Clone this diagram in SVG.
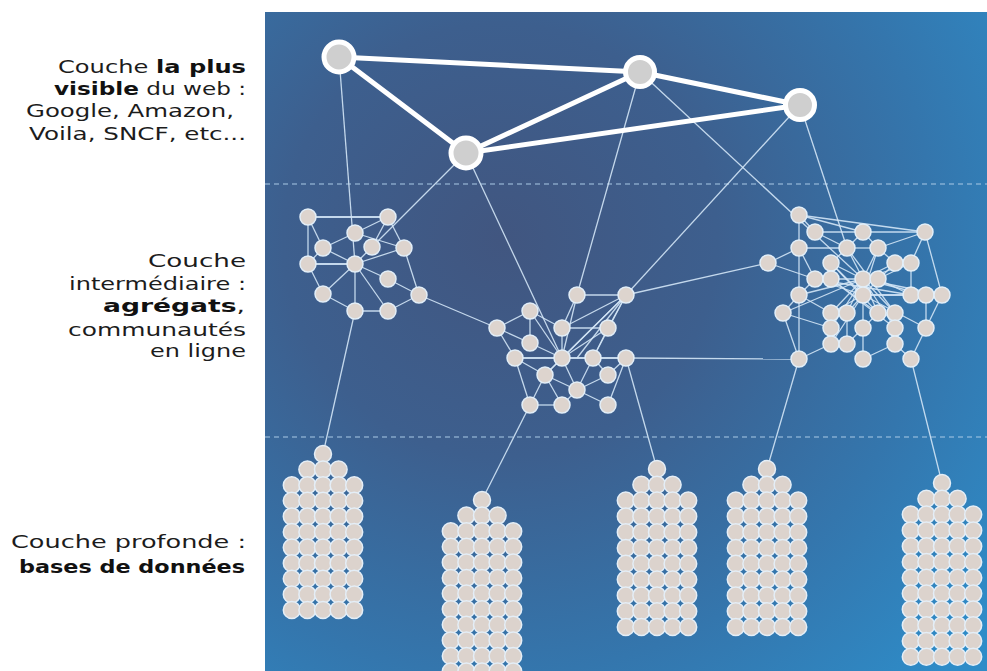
<svg xmlns="http://www.w3.org/2000/svg" xmlns:xlink="http://www.w3.org/1999/xlink" width="987" height="671" viewBox="0 0 987 671">
<defs>
<radialGradient id="bg" gradientUnits="userSpaceOnUse" cx="500" cy="240" r="620">
<stop offset="0" stop-color="#415680"/>
<stop offset="0.35" stop-color="#3d5f8e"/>
<stop offset="0.7" stop-color="#3476ad"/>
<stop offset="1" stop-color="#2e8cc8"/>
</radialGradient>
<style>
.lbl{font-family:"DejaVu Sans","Liberation Sans",sans-serif;font-size:18px;fill:#1c1c1c;text-anchor:end}
.b{font-weight:bold;fill:#111}
.dash{stroke:#a9c9e6;stroke-width:1.2;stroke-dasharray:5 4;fill:none}
.thick{stroke:#ffffff;stroke-width:5;fill:none;stroke-linecap:round}
.thin line{stroke:#d3e6f7;stroke-width:1.3;opacity:0.9}
.top{fill:#cfcfcf;stroke:#ffffff;stroke-width:5}
.cn{fill:#ddd4ce;stroke:#e2eef8;stroke-width:1.5}
.db{fill:#dcd3cd;stroke:#e4eef7;stroke-width:1.5}
</style>
<g id="r5"><circle cx="-31.2" cy="0" r="8.5"/><circle cx="-15.6" cy="0" r="8.5"/><circle cx="0" cy="0" r="8.5"/><circle cx="15.6" cy="0" r="8.5"/><circle cx="31.2" cy="0" r="8.5"/></g>
<g id="r3"><circle cx="-15.6" cy="0" r="8.5"/><circle cx="0" cy="0" r="8.5"/><circle cx="15.6" cy="0" r="8.5"/></g>
<g id="r1"><circle cx="0" cy="0" r="8.5"/></g>
</defs>
<rect x="0" y="0" width="987" height="671" fill="#ffffff"/>
<rect x="265" y="12" width="722" height="659" fill="url(#bg)"/>
<line class="dash" x1="265" y1="184" x2="987" y2="184"/>
<line class="dash" x1="265" y1="437" x2="987" y2="437"/>

<g id="labels">
<text class="lbl" x="246" y="73" textLength="188" lengthAdjust="spacingAndGlyphs">Couche <tspan class="b">la plus</tspan></text>
<text class="lbl" x="246" y="95" textLength="192" lengthAdjust="spacingAndGlyphs"><tspan class="b">visible</tspan> du web :</text>
<text class="lbl" x="234" y="117" textLength="208" lengthAdjust="spacingAndGlyphs">Google, Amazon,</text>
<text class="lbl" x="246" y="140" textLength="217" lengthAdjust="spacingAndGlyphs">Voila, SNCF, etc...</text>
<text class="lbl" x="246" y="267" textLength="98" lengthAdjust="spacingAndGlyphs">Couche</text>
<text class="lbl" x="246" y="290" textLength="177" lengthAdjust="spacingAndGlyphs">intermédiaire :</text>
<text class="lbl" x="245" y="312" textLength="142" lengthAdjust="spacingAndGlyphs"><tspan class="b">agrégats</tspan>,</text>
<text class="lbl" x="246" y="336" textLength="178" lengthAdjust="spacingAndGlyphs">communautés</text>
<text class="lbl" x="246" y="357" textLength="96" lengthAdjust="spacingAndGlyphs">en ligne</text>
<text class="lbl" x="246" y="548" textLength="235" lengthAdjust="spacingAndGlyphs">Couche profonde :</text>
<text class="lbl b" x="245" y="573" textLength="226" lengthAdjust="spacingAndGlyphs">bases de données</text>
</g>

<g id="connectors">
<g class="thin">
<line x1="339" y1="57" x2="355" y2="264"/>
<line x1="466" y1="153" x2="372" y2="247"/>
<line x1="466" y1="153" x2="562" y2="358"/>
<line x1="640" y1="72" x2="577" y2="295"/>
<line x1="640" y1="72" x2="863" y2="279"/>
<line x1="800" y1="105" x2="626" y2="295"/>
<line x1="800" y1="105" x2="847" y2="248"/>
<line x1="419" y1="295" x2="497" y2="328"/>
<line x1="626" y1="295" x2="768" y2="263"/>
<line x1="626" y1="358" x2="799" y2="359"/>
<line x1="355" y1="311" x2="323" y2="454"/>
<line x1="530" y1="405" x2="482" y2="500"/>
<line x1="626" y1="358" x2="657" y2="469"/>
<line x1="799" y1="359" x2="767" y2="469"/>
<line x1="911" y1="359" x2="942" y2="483"/>
<line x1="308" y1="217" x2="388" y2="217" style="stroke-width:2.2"/>
<line x1="308" y1="217" x2="308" y2="264"/>
<line x1="308" y1="264" x2="355" y2="264" style="stroke-width:2.2"/>
<line x1="308" y1="217" x2="323" y2="248"/>
<line x1="323" y1="248" x2="355" y2="264"/>
<line x1="388" y1="217" x2="355" y2="233"/>
<line x1="388" y1="217" x2="372" y2="247"/>
<line x1="388" y1="217" x2="404" y2="248"/>
<line x1="355" y1="233" x2="323" y2="248"/>
<line x1="355" y1="233" x2="404" y2="248"/>
<line x1="323" y1="248" x2="308" y2="264"/>
<line x1="372" y1="247" x2="355" y2="264"/>
<line x1="404" y1="248" x2="355" y2="264"/>
<line x1="404" y1="248" x2="419" y2="295"/>
<line x1="355" y1="264" x2="388" y2="279"/>
<line x1="355" y1="264" x2="323" y2="294"/>
<line x1="355" y1="264" x2="355" y2="311"/>
<line x1="355" y1="264" x2="388" y2="311"/>
<line x1="308" y1="264" x2="323" y2="294"/>
<line x1="323" y1="294" x2="355" y2="311"/>
<line x1="355" y1="311" x2="388" y2="311"/>
<line x1="388" y1="311" x2="419" y2="295"/>
<line x1="388" y1="279" x2="419" y2="295"/>
<line x1="577" y1="295" x2="626" y2="295"/>
<line x1="577" y1="295" x2="562" y2="358"/>
<line x1="577" y1="295" x2="562" y2="328"/>
<line x1="626" y1="295" x2="562" y2="358"/>
<line x1="626" y1="295" x2="562" y2="328"/>
<line x1="626" y1="295" x2="608" y2="328"/>
<line x1="626" y1="295" x2="545" y2="375"/>
<line x1="626" y1="295" x2="577" y2="358"/>
<line x1="626" y1="295" x2="593" y2="358"/>
<line x1="530" y1="311" x2="497" y2="328"/>
<line x1="530" y1="311" x2="562" y2="328"/>
<line x1="530" y1="311" x2="530" y2="343"/>
<line x1="530" y1="311" x2="562" y2="358"/>
<line x1="497" y1="328" x2="530" y2="343"/>
<line x1="497" y1="328" x2="515" y2="358"/>
<line x1="562" y1="328" x2="608" y2="328"/>
<line x1="562" y1="328" x2="562" y2="358"/>
<line x1="608" y1="328" x2="562" y2="358"/>
<line x1="608" y1="328" x2="593" y2="358"/>
<line x1="530" y1="343" x2="562" y2="358"/>
<line x1="515" y1="358" x2="626" y2="358" style="stroke-width:2"/>
<line x1="515" y1="358" x2="545" y2="375"/>
<line x1="515" y1="358" x2="530" y2="405"/>
<line x1="562" y1="358" x2="545" y2="375"/>
<line x1="562" y1="358" x2="577" y2="390"/>
<line x1="593" y1="358" x2="577" y2="390"/>
<line x1="593" y1="358" x2="608" y2="375"/>
<line x1="626" y1="358" x2="608" y2="375"/>
<line x1="626" y1="358" x2="608" y2="405"/>
<line x1="545" y1="375" x2="577" y2="390"/>
<line x1="545" y1="375" x2="562" y2="405"/>
<line x1="545" y1="375" x2="530" y2="405"/>
<line x1="577" y1="390" x2="562" y2="405"/>
<line x1="577" y1="390" x2="608" y2="405"/>
<line x1="608" y1="375" x2="577" y2="390"/>
<line x1="530" y1="405" x2="562" y2="405"/>
<line x1="799" y1="215" x2="925" y2="232"/>
<line x1="799" y1="215" x2="863" y2="232"/>
<line x1="799" y1="215" x2="815" y2="232"/>
<line x1="799" y1="215" x2="799" y2="248"/>
<line x1="815" y1="232" x2="863" y2="232"/>
<line x1="815" y1="232" x2="847" y2="248"/>
<line x1="863" y1="232" x2="925" y2="232"/>
<line x1="863" y1="232" x2="847" y2="248"/>
<line x1="863" y1="232" x2="878" y2="248"/>
<line x1="925" y1="232" x2="878" y2="248"/>
<line x1="925" y1="232" x2="911" y2="263"/>
<line x1="925" y1="232" x2="942" y2="295"/>
<line x1="799" y1="248" x2="847" y2="248"/>
<line x1="799" y1="248" x2="768" y2="263"/>
<line x1="799" y1="248" x2="799" y2="295"/>
<line x1="799" y1="248" x2="815" y2="279"/>
<line x1="847" y1="248" x2="878" y2="248"/>
<line x1="847" y1="248" x2="831" y2="263"/>
<line x1="847" y1="248" x2="863" y2="279"/>
<line x1="878" y1="248" x2="895" y2="263"/>
<line x1="878" y1="248" x2="863" y2="279"/>
<line x1="768" y1="263" x2="815" y2="279"/>
<line x1="831" y1="263" x2="831" y2="279"/>
<line x1="831" y1="263" x2="863" y2="279"/>
<line x1="895" y1="263" x2="911" y2="263"/>
<line x1="895" y1="263" x2="863" y2="279"/>
<line x1="911" y1="263" x2="911" y2="295"/>
<line x1="911" y1="263" x2="878" y2="279"/>
<line x1="815" y1="279" x2="863" y2="279"/>
<line x1="863" y1="279" x2="878" y2="279"/>
<line x1="863" y1="279" x2="863" y2="295"/>
<line x1="878" y1="279" x2="911" y2="295"/>
<line x1="799" y1="295" x2="783" y2="313"/>
<line x1="799" y1="295" x2="799" y2="359"/>
<line x1="799" y1="295" x2="831" y2="313"/>
<line x1="799" y1="295" x2="815" y2="279"/>
<line x1="799" y1="295" x2="863" y2="279"/>
<line x1="783" y1="313" x2="831" y2="328"/>
<line x1="783" y1="313" x2="799" y2="359"/>
<line x1="831" y1="313" x2="831" y2="328"/>
<line x1="831" y1="328" x2="831" y2="344"/>
<line x1="831" y1="344" x2="847" y2="344"/>
<line x1="847" y1="344" x2="863" y2="328"/>
<line x1="863" y1="328" x2="863" y2="359"/>
<line x1="911" y1="359" x2="926" y2="328"/>
<line x1="926" y1="328" x2="942" y2="295"/>
<line x1="911" y1="295" x2="942" y2="295"/>
<line x1="895" y1="328" x2="895" y2="344"/>
<line x1="895" y1="344" x2="911" y2="359"/>
<line x1="895" y1="313" x2="895" y2="328"/>
<line x1="831" y1="313" x2="847" y2="313"/>
<line x1="878" y1="313" x2="895" y2="313"/>
<line x1="847" y1="313" x2="847" y2="344"/>
<line x1="878" y1="313" x2="863" y2="328"/>
<line x1="926" y1="295" x2="926" y2="328"/>
<line x1="863" y1="359" x2="895" y2="344"/>
<line x1="799" y1="359" x2="831" y2="344"/>
<line x1="863" y1="279" x2="831" y2="313"/>
<line x1="863" y1="279" x2="847" y2="313"/>
<line x1="863" y1="279" x2="878" y2="313"/>
<line x1="863" y1="279" x2="895" y2="313"/>
<line x1="863" y1="279" x2="831" y2="328"/>
<line x1="863" y1="279" x2="863" y2="328"/>
<line x1="863" y1="279" x2="895" y2="328"/>
<line x1="863" y1="279" x2="926" y2="295"/>
<line x1="863" y1="279" x2="942" y2="295"/>
<line x1="863" y1="279" x2="911" y2="263"/>
<line x1="863" y1="279" x2="783" y2="313"/>
<line x1="863" y1="295" x2="831" y2="263"/>
<line x1="863" y1="295" x2="815" y2="279"/>
<line x1="863" y1="295" x2="831" y2="313"/>
<line x1="863" y1="295" x2="847" y2="313"/>
<line x1="863" y1="295" x2="895" y2="263"/>
<line x1="863" y1="295" x2="926" y2="328"/>
<line x1="863" y1="295" x2="926" y2="295"/>
<line x1="863" y1="295" x2="831" y2="344"/>
<line x1="863" y1="295" x2="878" y2="248"/>
<line x1="863" y1="295" x2="911" y2="295"/>
<line x1="831" y1="279" x2="895" y2="328"/>
<line x1="831" y1="279" x2="878" y2="313"/>
<line x1="815" y1="279" x2="911" y2="295"/>
<line x1="847" y1="248" x2="895" y2="313"/>
<line x1="831" y1="263" x2="878" y2="313"/>
</g>
<g id="thick-edges">
<line class="thick" x1="339" y1="57" x2="640" y2="72"/>
<line class="thick" x1="339" y1="57" x2="466" y2="153"/>
<line class="thick" x1="466" y1="153" x2="640" y2="72"/>
<line class="thick" x1="466" y1="153" x2="800" y2="105"/>
<line class="thick" x1="640" y1="72" x2="800" y2="105"/>
</g>
</g>

<g id="top-nodes">
<g id="web-a"><circle class="top" cx="339" cy="57" r="15"/></g>
<g id="web-b"><circle class="top" cx="640" cy="72" r="14.5"/></g>
<g id="web-c"><circle class="top" cx="800" cy="105" r="14.5"/></g>
<g id="web-d"><circle class="top" cx="466" cy="153" r="15"/></g>
</g>

<g id="cluster-left" class="cn">
<circle cx="308" cy="217" r="8"/><circle cx="388" cy="217" r="8"/><circle cx="355" cy="233" r="8"/>
<circle cx="323" cy="248" r="8"/><circle cx="372" cy="247" r="8"/><circle cx="404" cy="248" r="8"/>
<circle cx="308" cy="264" r="8"/><circle cx="355" cy="264" r="8"/><circle cx="388" cy="279" r="8"/>
<circle cx="323" cy="294" r="8"/><circle cx="419" cy="295" r="8"/><circle cx="355" cy="311" r="8"/>
<circle cx="388" cy="311" r="8"/>
</g>

<g id="cluster-middle" class="cn">
<circle cx="577" cy="295" r="8"/><circle cx="626" cy="295" r="8"/><circle cx="530" cy="311" r="8"/>
<circle cx="497" cy="328" r="8"/><circle cx="562" cy="328" r="8"/><circle cx="608" cy="328" r="8"/>
<circle cx="530" cy="343" r="8"/><circle cx="515" cy="358" r="8"/><circle cx="562" cy="358" r="8"/>
<circle cx="593" cy="358" r="8"/><circle cx="626" cy="358" r="8"/><circle cx="545" cy="375" r="8"/>
<circle cx="608" cy="375" r="8"/><circle cx="577" cy="390" r="8"/><circle cx="530" cy="405" r="8"/>
<circle cx="562" cy="405" r="8"/><circle cx="608" cy="405" r="8"/>
</g>

<g id="cluster-right" class="cn">
<circle cx="799" cy="215" r="8"/><circle cx="815" cy="232" r="8"/><circle cx="863" cy="232" r="8"/>
<circle cx="925" cy="232" r="8"/><circle cx="799" cy="248" r="8"/><circle cx="847" cy="248" r="8"/>
<circle cx="878" cy="248" r="8"/><circle cx="768" cy="263" r="8"/><circle cx="831" cy="263" r="8"/>
<circle cx="895" cy="263" r="8"/><circle cx="911" cy="263" r="8"/><circle cx="815" cy="279" r="8"/>
<circle cx="831" cy="279" r="8"/><circle cx="863" cy="279" r="8"/><circle cx="878" cy="279" r="8"/>
<circle cx="799" cy="295" r="8"/><circle cx="863" cy="295" r="8"/><circle cx="911" cy="295" r="8"/>
<circle cx="926" cy="295" r="8"/><circle cx="942" cy="295" r="8"/><circle cx="783" cy="313" r="8"/>
<circle cx="831" cy="313" r="8"/><circle cx="847" cy="313" r="8"/><circle cx="878" cy="313" r="8"/>
<circle cx="895" cy="313" r="8"/><circle cx="831" cy="328" r="8"/><circle cx="863" cy="328" r="8"/>
<circle cx="895" cy="328" r="8"/><circle cx="926" cy="328" r="8"/><circle cx="831" cy="344" r="8"/>
<circle cx="847" cy="344" r="8"/><circle cx="895" cy="344" r="8"/><circle cx="799" cy="359" r="8"/>
<circle cx="863" cy="359" r="8"/><circle cx="911" cy="359" r="8"/>
</g>

<g id="db1" class="db">
<use href="#r1" x="323" y="454"/><use href="#r3" x="323" y="469.6"/>
<use href="#r5" x="323" y="485.2"/><use href="#r5" x="323" y="500.8"/><use href="#r5" x="323" y="516.4"/>
<use href="#r5" x="323" y="532"/><use href="#r5" x="323" y="547.6"/><use href="#r5" x="323" y="563.2"/>
<use href="#r5" x="323" y="578.8"/><use href="#r5" x="323" y="594.4"/><use href="#r5" x="323" y="610"/>
</g>
<g id="db2" class="db">
<use href="#r1" x="482" y="500"/><use href="#r3" x="482" y="515.6"/>
<use href="#r5" x="482" y="531.2"/><use href="#r5" x="482" y="546.8"/><use href="#r5" x="482" y="562.4"/>
<use href="#r5" x="482" y="578"/><use href="#r5" x="482" y="593.6"/><use href="#r5" x="482" y="609.2"/>
<use href="#r5" x="482" y="624.8"/><use href="#r5" x="482" y="640.4"/><use href="#r5" x="482" y="656"/>
<use href="#r5" x="482" y="671.6"/>
</g>
<g id="db3" class="db">
<use href="#r1" x="657" y="469"/><use href="#r3" x="657" y="484.8"/>
<use href="#r5" x="657" y="500.6"/><use href="#r5" x="657" y="516.4"/><use href="#r5" x="657" y="532.2"/>
<use href="#r5" x="657" y="548"/><use href="#r5" x="657" y="563.8"/><use href="#r5" x="657" y="579.6"/>
<use href="#r5" x="657" y="595.4"/><use href="#r5" x="657" y="611.2"/><use href="#r5" x="657" y="627"/>
</g>
<g id="db4" class="db">
<use href="#r1" x="767" y="469"/><use href="#r3" x="767" y="484.8"/>
<use href="#r5" x="767" y="500.6"/><use href="#r5" x="767" y="516.4"/><use href="#r5" x="767" y="532.2"/>
<use href="#r5" x="767" y="548"/><use href="#r5" x="767" y="563.8"/><use href="#r5" x="767" y="579.6"/>
<use href="#r5" x="767" y="595.4"/><use href="#r5" x="767" y="611.2"/><use href="#r5" x="767" y="627"/>
</g>
<g id="db5" class="db">
<use href="#r1" x="942" y="483"/><use href="#r3" x="942" y="498.8"/>
<use href="#r5" x="942" y="514.6"/><use href="#r5" x="942" y="530.4"/><use href="#r5" x="942" y="546.2"/>
<use href="#r5" x="942" y="562"/><use href="#r5" x="942" y="577.8"/><use href="#r5" x="942" y="593.6"/>
<use href="#r5" x="942" y="609.4"/><use href="#r5" x="942" y="625.2"/><use href="#r5" x="942" y="641"/>
<use href="#r5" x="942" y="656.8"/>
</g>
</svg>
